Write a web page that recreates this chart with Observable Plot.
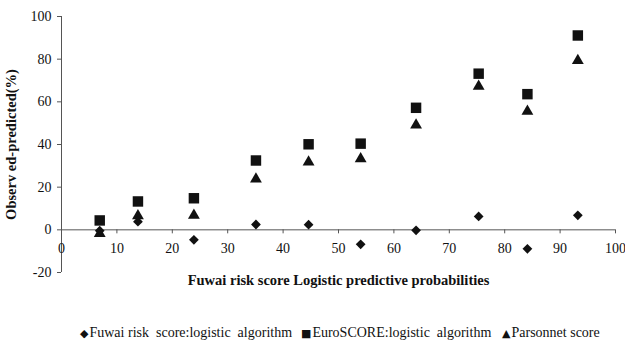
<!DOCTYPE html>
<html><head><meta charset="utf-8">
<script src="https://cdn.jsdelivr.net/npm/d3@7"></script>
<script src="https://cdn.jsdelivr.net/npm/@observablehq/plot@0.6"></script>
<style>
body{margin:0;background:#fff;font-family:"Liberation Serif",serif;color:#111;}
#legend{position:relative;height:40px;width:625px;font-size:14px;}
#legend .item{position:absolute;top:25px;white-space:pre;line-height:16px;}
#legend .sym{font-family:"DejaVu Sans",sans-serif;font-size:11px;margin-right:1px;}
</style></head><body>
<div id="chart"></div>
<div id="legend"></div>
<script>
const xTicks = [0, 10, 20, 30, 40, 50, 60, 70, 80, 90, 100];
const yTicks = [-20, 0, 20, 40, 60, 80, 100];
const xVals = [6.9, 13.8, 23.9, 35.1, 44.6, 54.0, 64.0, 75.3, 84.1, 93.2];
const fuwai = [-0.4, 3.8, -4.7, 2.5, 2.4, -6.8, -0.2, 6.3, -8.9, 6.8];
const euro = [4.4, 13.3, 14.8, 32.5, 40.1, 40.4, 57.2, 73.2, 63.6, 91.1];
const parsonnet = [-1.8, 6.6, 6.8, 23.8, 31.8, 33.3, 49.1, 67.3, 55.6, 79.3];
const seriesNames = ["Fuwai risk  score:logistic  algorithm", "EuroSCORE:logistic  algorithm", "Parsonnet score"];
const xTitle = "Fuwai risk score Logistic predictive probabilities";
const yTitle = "Observ ed-predicted(%)";

const rows = xVals.map((x, i) => ({x, fuwai: fuwai[i], euro: euro[i], parsonnet: parsonnet[i]}));

const W = 625, H = 300, mT = 16, mB = 28, mL = 61, mR = 10;
const yDomain = [-20, 100];
const yS = d3.scaleLinear().domain(yDomain).range([H - mB, mT]);
const axisShift = yS(0) - yS(yDomain[0]);

const chart = Plot.plot({
  width: W, height: H,
  marginTop: mT, marginBottom: mB, marginLeft: mL, marginRight: mR,
  style: {fontFamily: "Liberation Serif, serif", fontSize: "14px", color: "#111", background: "#fff"},
  x: {domain: [0, 100], axis: null},
  y: {domain: yDomain, axis: null},
  marks: [
    Plot.ruleX([0], {stroke: "#555"}),
    Plot.ruleY([0], {stroke: "#555"}),
    Plot.axisY({ticks: yTicks, anchor: "left", tickSize: 4, tickPadding: 6, label: null, tickFormat: d => String(d), stroke: "#555"}),
    Plot.axisX({ticks: xTicks, anchor: "bottom", tickSize: 4, tickPadding: 9, label: null, tickFormat: d => String(d), dy: axisShift, stroke: "#555"}),
    Plot.text([xTitle], {frameAnchor: "bottom", dy: 12, text: d => d, fontWeight: "bold", fontSize: 14.5}),
    Plot.text([yTitle], {frameAnchor: "left", textAnchor: "middle", rotate: -90, dx: -50, text: d => d, fontWeight: "bold", fontSize: 14.5}),
    Plot.dot(rows, {x: "x", y: "euro", symbol: "square", r: 5.9, fill: "#111"}),
    Plot.dot(rows, {x: "x", y: "parsonnet", symbol: "triangle", r: 4.4, fill: "#111"}),
    Plot.dot(rows, {x: "x", y: "fuwai", symbol: "diamond2", r: 4.4, fill: "#111"})
  ]
});
document.getElementById("chart").appendChild(chart);

const syms = ["\u25C6", "\u25A0", "\u25B2"];
const lefts = [80, 301, 502];
const legend = document.getElementById("legend");
seriesNames.forEach((name, i) => {
  const item = document.createElement("div");
  item.className = "item";
  item.style.left = lefts[i] + "px";
  item.innerHTML = `<span class="sym">${syms[i]}</span>${name}`;
  legend.appendChild(item);
});
</script></body></html>
